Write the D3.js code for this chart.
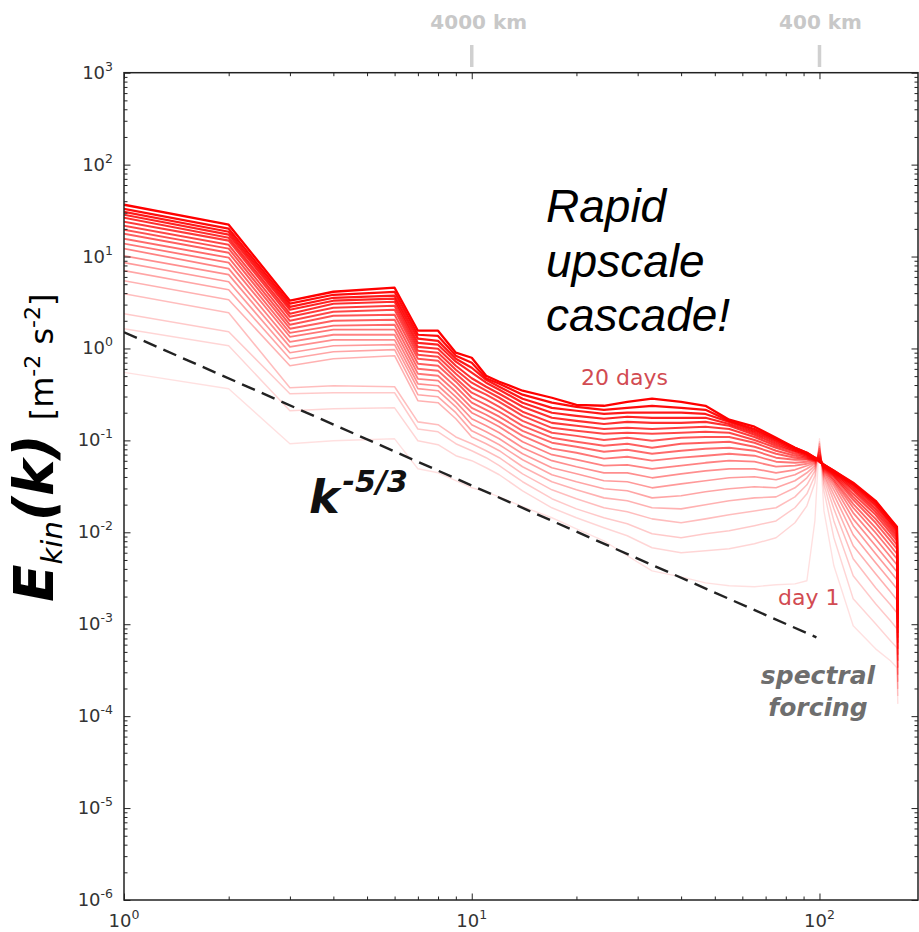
<!DOCTYPE html>
<html>
<head>
<meta charset="utf-8">
<script src="https://cdn.jsdelivr.net/npm/d3@7"></script>
<style>
body { margin: 0; background: #fff; }
svg { display: block; }
.tick line { stroke: #222; }
</style>
</head>
<body>
<div id="chart"></div>
<script>

var wavenumber = [1,2,3,4,6,7,8,9,10,11,12,14,17,20,24,28,33,40,47,55,65,75,85,92,97,100,103,110,125,145,160,167,168];

// kinetic energy spectra, one array per day
var day1  = [0.549,0.365,0.092,0.099,0.104,0.0491,0.0444,0.0364,0.0305,0.0276,0.0243,0.019,0.0144,0.0109,0.00809,0.00556,0.00381,0.00328,0.00282,0.00262,0.00256,0.00269,0.00275,0.00297,0.0133,0.104,0.0171,0.00432,0.000962,0.00054,0.0004,0.000336,0.000136];
var day2  = [1.64,1.07,0.21,0.221,0.226,0.099,0.0897,0.0681,0.0601,0.0504,0.0423,0.0283,0.0185,0.0144,0.0112,0.00918,0.00679,0.00599,0.0063,0.00662,0.00751,0.00873,0.0127,0.0194,0.0346,0.0967,0.0283,0.00873,0.00189,0.00101,0.000661,0.000554,0.000166];
var day3  = [2.39,1.52,0.322,0.33,0.33,0.133,0.124,0.092,0.0772,0.0648,0.053,0.0355,0.0232,0.018,0.0144,0.0124,0.00965,0.00873,0.00965,0.0104,0.0118,0.0133,0.0185,0.0262,0.0412,0.092,0.0337,0.0133,0.00337,0.00167,0.00109,0.000893,0.000198];
var day4  = [3.94,2.45,0.374,0.393,0.383,0.159,0.148,0.109,0.092,0.0772,0.0648,0.0433,0.029,0.0232,0.0185,0.0167,0.014,0.0127,0.014,0.0155,0.0171,0.0185,0.0243,0.0329,0.0467,0.0853,0.0379,0.018,0.00515,0.00249,0.00163,0.00133,0.000236];
var day5  = [5.46,3.39,0.649,0.774,0.834,0.27,0.257,0.172,0.109,0.092,0.0772,0.0517,0.0355,0.029,0.0237,0.022,0.0185,0.018,0.0199,0.022,0.0237,0.0243,0.0305,0.0392,0.0504,0.0812,0.0412,0.022,0.00714,0.00354,0.00225,0.00184,0.000282];
var day6  = [7.02,4.36,0.774,0.922,0.97,0.314,0.298,0.2,0.127,0.107,0.0897,0.0616,0.0423,0.0355,0.0298,0.0283,0.0237,0.025,0.0276,0.0298,0.0313,0.0305,0.0364,0.0444,0.053,0.0772,0.0433,0.0256,0.00941,0.00466,0.00297,0.00243,0.000336];
var day7  = [8.58,5.32,0.899,1.07,1.1,0.365,0.347,0.232,0.148,0.124,0.104,0.0716,0.0504,0.0433,0.0364,0.0355,0.0305,0.0337,0.0364,0.0392,0.0402,0.0373,0.0423,0.0491,0.0557,0.0734,0.0455,0.029,0.0118,0.00584,0.00372,0.00304,0.0004];
var day8  = [10.2,6.35,1.04,1.24,1.24,0.413,0.393,0.263,0.172,0.144,0.121,0.0832,0.0601,0.0517,0.0444,0.0444,0.0392,0.0433,0.0467,0.0491,0.0491,0.0444,0.0479,0.053,0.0571,0.0698,0.0467,0.0321,0.014,0.00714,0.00455,0.00372,0.000465];
var day9  = [12.2,7.38,1.18,1.41,1.41,0.468,0.446,0.298,0.2,0.168,0.141,0.0967,0.0698,0.0616,0.053,0.0543,0.0491,0.053,0.0571,0.0601,0.0586,0.0517,0.053,0.0557,0.0586,0.0681,0.0479,0.0346,0.0163,0.00851,0.00542,0.00443,0.00054];
var day10 = [13.8,8.58,1.34,1.6,1.6,0.531,0.505,0.338,0.226,0.19,0.159,0.112,0.0812,0.0734,0.0632,0.0664,0.0601,0.0648,0.0681,0.0716,0.0681,0.0586,0.0571,0.0586,0.0601,0.0664,0.0491,0.0364,0.0185,0.00989,0.0063,0.00515,0.000629];
var day11 = [15.6,9.72,1.48,1.77,1.81,0.602,0.573,0.383,0.257,0.215,0.181,0.127,0.0943,0.0853,0.0753,0.0791,0.0716,0.0772,0.0812,0.0832,0.0772,0.0648,0.0616,0.0616,0.0601,0.0648,0.0504,0.0379,0.0204,0.0112,0.00714,0.00584,0.000711];
var day12 = [17.7,11.0,1.64,2.0,2.05,0.683,0.649,0.435,0.291,0.244,0.205,0.144,0.107,0.0967,0.0875,0.092,0.0832,0.092,0.0943,0.0967,0.0853,0.0716,0.0648,0.0632,0.0616,0.0632,0.0504,0.0402,0.0226,0.0127,0.00809,0.00662,0.000805];
var day13 = [19.6,12.2,1.81,2.27,2.33,0.774,0.736,0.474,0.33,0.277,0.232,0.163,0.121,0.112,0.101,0.107,0.0992,0.107,0.109,0.109,0.0943,0.0772,0.0681,0.0648,0.0616,0.0632,0.0517,0.0412,0.0243,0.014,0.00895,0.00732,0.000915];
var day14 = [21.6,13.4,2.0,2.51,2.64,0.856,0.813,0.531,0.374,0.314,0.263,0.185,0.137,0.127,0.118,0.121,0.118,0.121,0.124,0.121,0.101,0.0832,0.0716,0.0664,0.0616,0.0616,0.0517,0.0423,0.0262,0.0155,0.00989,0.00809,0.00104];
var day15 = [23.9,14.9,2.21,2.77,2.92,0.946,0.899,0.587,0.424,0.347,0.291,0.205,0.155,0.144,0.133,0.137,0.133,0.137,0.141,0.133,0.109,0.0875,0.0753,0.0681,0.0632,0.0616,0.053,0.0433,0.0283,0.0167,0.0107,0.00873,0.00115];
var day16 = [26.4,16.0,2.39,3.07,3.22,1.04,0.994,0.649,0.474,0.383,0.322,0.232,0.176,0.163,0.151,0.159,0.155,0.155,0.159,0.144,0.115,0.092,0.0772,0.0698,0.0632,0.0601,0.053,0.0444,0.0298,0.018,0.0115,0.00941,0.00127];
var day17 = [28.5,17.3,2.64,3.31,3.48,1.15,1.1,0.718,0.545,0.424,0.356,0.257,0.2,0.185,0.172,0.181,0.176,0.176,0.176,0.151,0.121,0.0967,0.0791,0.0716,0.0632,0.0601,0.053,0.0455,0.0313,0.0194,0.0124,0.0101,0.0014];
var day18 = [30.7,18.6,2.84,3.56,3.75,1.28,1.21,0.774,0.617,0.456,0.383,0.284,0.226,0.21,0.194,0.2,0.2,0.2,0.194,0.159,0.127,0.101,0.0812,0.0716,0.0648,0.0601,0.0543,0.0455,0.0329,0.0204,0.013,0.0107,0.00155];
var day19 = [33.1,20.1,3.07,3.84,4.14,1.41,1.37,0.834,0.7,0.474,0.413,0.314,0.257,0.232,0.215,0.226,0.238,0.226,0.215,0.163,0.133,0.104,0.0832,0.0734,0.0648,0.0586,0.0543,0.0467,0.0337,0.0215,0.0137,0.0112,0.00171];
var day20 = [36.6,22.2,3.31,4.14,4.58,1.56,1.56,0.899,0.793,0.505,0.435,0.347,0.291,0.244,0.238,0.263,0.284,0.263,0.238,0.168,0.141,0.107,0.0832,0.0734,0.0648,0.0586,0.0543,0.0467,0.0346,0.022,0.014,0.0115,0.00189];

// k^-5/3 reference line
var refK = [1, 98];
var refE = [1.5, 0.00072];

// tick labels
var xExponents = [0, 1, 2];
var yExponents = [-6, -5, -4, -3, -2, -1, 0, 1, 2, 3];
var kmTicks = [10, 100];
var kmLabels = ["4000 km", "400 km"];

var days = [day1,day2,day3,day4,day5,day6,day7,day8,day9,day10,
            day11,day12,day13,day14,day15,day16,day17,day18,day19,day20];

var width = 919, height = 932;
var plotLeft = 124, plotRight = 918, plotTop = 72.7, plotBottom = 900;

var svg = d3.select("#chart").append("svg")
  .attr("width", width)
  .attr("height", height);

var x = d3.scaleLog().domain([1, 192]).range([plotLeft, plotRight]);
var y = d3.scaleLog().domain([1e-6, 1e3]).range([plotBottom, plotTop]);

// minor tick positions
var xMinor = [], yMinor = [];
[0, 1, 2].forEach(function(e) {
  for (var m = 2; m <= 9; m++) {
    var v = m * Math.pow(10, e);
    if (v < 192) xMinor.push(v);
  }
});
for (var e = -6; e < 3; e++) {
  for (var m = 2; m <= 9; m++) yMinor.push(m * Math.pow(10, e));
}
var xMajor = xExponents.map(function(e) { return Math.pow(10, e); });
var yMajor = yExponents.map(function(e) { return Math.pow(10, e); });

// spectra
svg.append("clipPath").attr("id", "plotclip")
  .append("rect").attr("x", plotLeft).attr("y", plotTop)
  .attr("width", plotRight - plotLeft).attr("height", plotBottom - plotTop);

var line = d3.line()
  .x(function(d) { return x(d[0]); })
  .y(function(d) { return y(d[1]); });

var curves = svg.append("g").attr("clip-path", "url(#plotclip)");

curves.selectAll("path.day")
  .data(days)
  .enter().append("path")
  .attr("class", "day")
  .attr("fill", "none")
  .attr("stroke", "#ff0000")
  .attr("stroke-opacity", function(d, i) { return 0.12 + 0.88 * i / 19; })
  .attr("stroke-width", function(d, i) { return 1.4 + 0.9 * i / 19; })
  .attr("stroke-linejoin", "round")
  .attr("d", function(d) {
    return line(d.map(function(v, j) { return [wavenumber[j], v]; }));
  });

// reference slope
curves.append("path")
  .attr("fill", "none")
  .attr("stroke", "#222")
  .attr("stroke-width", 2.4)
  .attr("stroke-dasharray", "14,7.5")
  .attr("d", line(refK.map(function(k, i) { return [k, refE[i]]; })));

// axes, ticks pointing inwards on all four sides
function ticks(axis, vals, size) {
  return axis.tickValues(vals).tickSize(size).tickFormat("");
}
var axes = [
  [d3.axisBottom, x, "translate(0," + plotBottom + ")", xMajor, xMinor],
  [d3.axisTop, x, "translate(0," + plotTop + ")", xMajor, xMinor],
  [d3.axisLeft, y, "translate(" + plotLeft + ",0)", yMajor, yMinor],
  [d3.axisRight, y, "translate(" + plotRight + ",0)", yMajor, yMinor]
];
axes.forEach(function(a) {
  var g1 = svg.append("g").attr("transform", a[2]).call(ticks(a[0](a[1]), a[3], -6.5));
  g1.select(".domain").remove();
  var g2 = svg.append("g").attr("transform", a[2]).call(ticks(a[0](a[1]), a[4], -3.5));
  g2.select(".domain").remove();
});

svg.append("rect")
  .attr("x", plotLeft).attr("y", plotTop)
  .attr("width", plotRight - plotLeft).attr("height", plotBottom - plotTop)
  .attr("fill", "none").attr("stroke", "#222").attr("stroke-width", 1.5);

// tick labels as 10^n
var labels = svg.append("g")
  .attr("font-family", "DejaVu Sans")
  .attr("fill", "#333");

labels.selectAll("text.yl")
  .data(yExponents)
  .enter().append("text")
  .attr("class", "yl")
  .attr("x", 113)
  .attr("y", function(d) { return y(Math.pow(10, d)) + 6; })
  .attr("text-anchor", "end")
  .each(function(d) {
    var t = d3.select(this);
    t.append("tspan").attr("font-size", 18).text("10");
    t.append("tspan").attr("font-size", 12.5).attr("dy", -8).text(String(d));
  });

labels.selectAll("text.xl")
  .data(xExponents)
  .enter().append("text")
  .attr("class", "xl")
  .attr("x", function(d) { return x(Math.pow(10, d)); })
  .attr("y", 927)
  .attr("text-anchor", "middle")
  .each(function(d) {
    var t = d3.select(this);
    t.append("tspan").attr("font-size", 18).text("10");
    t.append("tspan").attr("font-size", 12.5).attr("dy", -8).text(String(d));
  });

// wavelength markers on top
var km = svg.append("g");
km.selectAll("line")
  .data(kmTicks)
  .enter().append("line")
  .attr("x1", function(d) { return x(d); })
  .attr("x2", function(d) { return x(d); })
  .attr("y1", 45).attr("y2", 67)
  .attr("stroke", "#d0d0d0")
  .attr("stroke-width", 3.5);
km.selectAll("text")
  .data(kmTicks)
  .enter().append("text")
  .attr("x", function(d, i) { return x(d) + (i == 0 ? 7 : 1); })
  .attr("y", 29)
  .attr("text-anchor", "middle")
  .attr("font-family", "DejaVu Sans")
  .attr("font-weight", "bold")
  .attr("font-size", 20)
  .attr("fill", "#c8c8c8")
  .text(function(d, i) { return kmLabels[i]; });

// y axis title
var yt = svg.append("text")
  .attr("transform", "translate(53,602) rotate(-90)")
  .attr("font-family", "DejaVu Sans")
  .attr("fill", "#000");
yt.append("tspan").attr("font-size", 55).attr("font-weight", "bold").attr("font-style", "italic").text("E");
yt.append("tspan").attr("font-size", 29).attr("font-style", "italic").attr("dy", 9).text("kin");
yt.append("tspan").attr("font-size", 55).attr("font-weight", "bold").attr("font-style", "italic").attr("dy", -9).text("(k)");
yt.append("tspan").attr("font-size", 32).attr("dx", 14).text("[m");
yt.append("tspan").attr("font-size", 22).attr("dy", -13).text("-2");
yt.append("tspan").attr("font-size", 32).attr("dy", 13).text(" s");
yt.append("tspan").attr("font-size", 22).attr("dy", -13).text("-2");
yt.append("tspan").attr("font-size", 32).attr("dy", 13).text("]");

// annotations
var slope = svg.append("text")
  .attr("x", 309).attr("y", 513)
  .attr("font-family", "DejaVu Sans")
  .attr("font-weight", "bold")
  .attr("font-style", "italic")
  .attr("fill", "#111");
slope.append("tspan").attr("font-size", 46).text("k");
slope.append("tspan").attr("font-size", 30).attr("dx", 3).attr("dy", -21).text("-5/3");

var rapid = svg.append("g")
  .attr("font-family", "Liberation Sans, Arial, sans-serif")
  .attr("font-style", "italic")
  .attr("font-size", 46)
  .attr("fill", "#000");
["Rapid", "upscale", "cascade!"].forEach(function(s, i) {
  rapid.append("text").attr("x", 546).attr("y", 222 + i * 54.5).text(s);
});

svg.append("text")
  .attr("x", 581).attr("y", 385)
  .attr("font-family", "DejaVu Sans").attr("font-size", 22)
  .attr("fill", "#d24b52")
  .text("20 days");

svg.append("text")
  .attr("x", 778).attr("y", 605)
  .attr("font-family", "DejaVu Sans").attr("font-size", 22)
  .attr("fill", "#d24b52")
  .text("day 1");

var forcing = svg.append("g")
  .attr("font-family", "DejaVu Sans")
  .attr("font-weight", "bold")
  .attr("font-style", "italic")
  .attr("font-size", 25)
  .attr("fill", "#6e6e6e")
  .attr("text-anchor", "middle");
forcing.append("text").attr("x", 818).attr("y", 684).text("spectral");
forcing.append("text").attr("x", 818).attr("y", 716).text("forcing");

</script>
</body>
</html>
